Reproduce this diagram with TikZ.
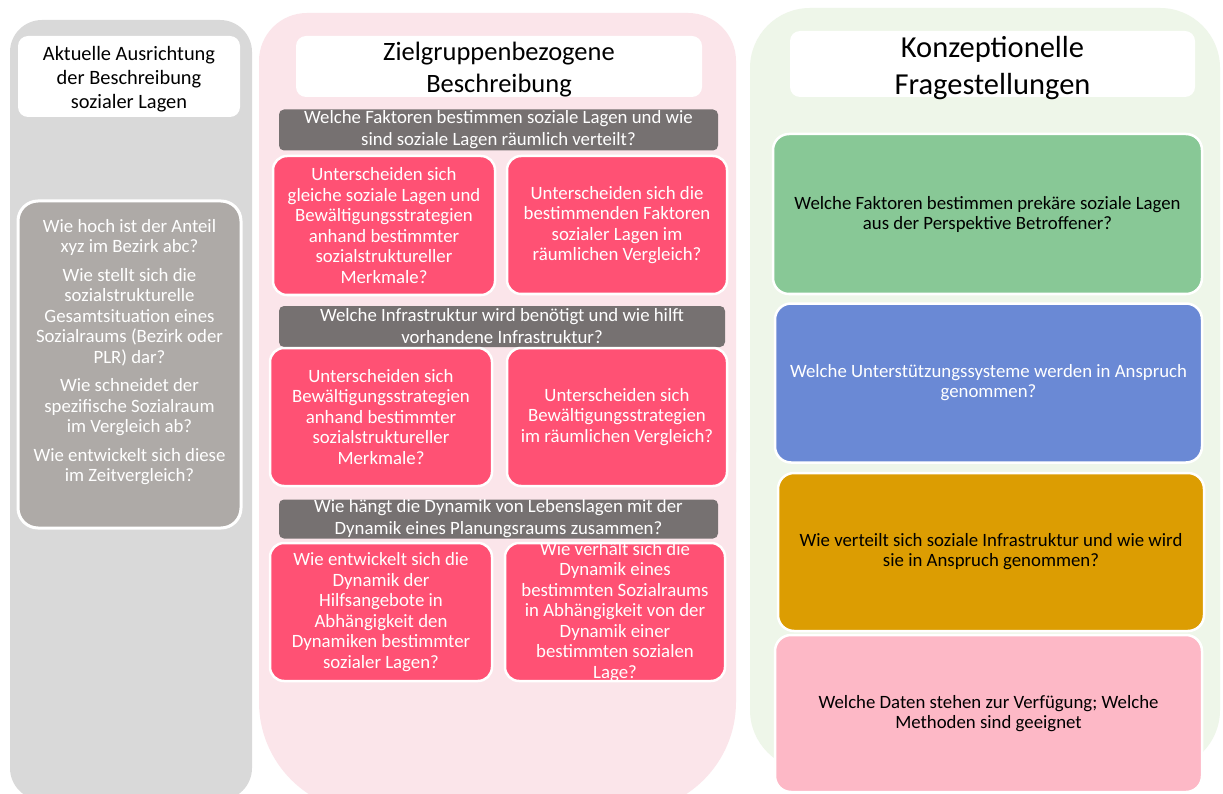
\documentclass[tikz,border=0pt]{standalone}
\usepackage{fontspec}
\setmainfont{Carlito}
\definecolor{leftbg}{HTML}{D9D9D9}
\definecolor{leftq}{HTML}{AEAAA7}
\definecolor{bargray}{HTML}{767171}
\definecolor{midbg}{HTML}{FBE5EA}
\definecolor{pinkq}{HTML}{FF5174}
\definecolor{rightbg}{HTML}{EEF6E9}
\definecolor{greenq}{HTML}{88C896}
\definecolor{blueq}{HTML}{6A89D5}
\definecolor{goldq}{HTML}{DC9D02}
\definecolor{lpinkq}{HTML}{FDB8C6}
\tikzset{
  titlebox/.style={fill=white, rounded corners=10, inner sep=0pt, align=center},
  qbar/.style={fill=bargray, rounded corners=5, inner sep=0pt, text=white, align=center,
    font=\fontsize{18.8}{22}\selectfont},
  pinkbox/.style={fill=pinkq, draw=white, line width=2.5pt, rounded corners=14, inner sep=0pt,
    text=white, align=center, font=\fontsize{18.8}{20.5}\selectfont},
  rbox/.style={draw=white, line width=2.5pt, rounded corners=16, inner sep=0pt, align=center,
    font=\fontsize{18.8}{20}\selectfont},
  plaintext/.style={inner sep=0pt, align=center}
}
\begin{document}
\begin{tikzpicture}[x=1pt,y=-1pt]
\useasboundingbox (0,0) rectangle (1223,794);
\fill[white] (0,0) rectangle (1223,794);
% column backgrounds
\fill[leftbg, rounded corners=32] (10,20) rectangle (252,800);
\fill[midbg, rounded corners=48] (259,13) rectangle (736,500);
\fill[midbg, rounded corners=110] (259,300) rectangle (736,812);
\fill[rightbg, rounded corners=60] (750,8) rectangle (1220,770);

% left column
\node[titlebox, minimum width=222, minimum height=81, font=\fontsize{20.4}{24}\selectfont]
  (Ltitle) at (129,76.5) {};
\node[plaintext, font=\fontsize{20.4}{24}\selectfont] (Ltitlet) at (129,79)
  {Aktuelle Ausrichtung\\der Beschreibung\\sozialer Lagen};
\node[fill=leftq, draw=white, line width=3pt, rounded corners=20, minimum width=223,
  minimum height=327, inner sep=0pt] (Lq) at (129.5,364.5) {};
\node[plaintext, text=white, font=\fontsize{18.8}{20.5}\selectfont] (Lqt) at (129.5,352)
  {Wie hoch ist der Anteil\\xyz im Bezirk abc?\\[8pt]
   Wie stellt sich die\\sozialstrukturelle\\Gesamtsituation eines\\Sozialraums (Bezirk oder\\PLR) dar?\\[8pt]
   Wie schneidet der\\spezifische Sozialraum\\im Vergleich ab?\\[8pt]
   Wie entwickelt sich diese\\im Zeitvergleich?};

% middle column
\node[titlebox, minimum width=406, minimum height=61] (Mtitle) at (499,66.5) {};
\node[plaintext, font=\fontsize{26.5}{32}\selectfont] (Mtitlet) at (499,70)
  {Zielgruppenbezogene\\Beschreibung};
\node[qbar, minimum width=439, minimum height=41] (bar1) at (498.5,130)
  {Welche Faktoren bestimmen soziale Lagen und wie\\sind soziale Lagen räumlich verteilt?};
\node[pinkbox, minimum width=222, minimum height=139] (A) at (384,225.5)
  {Unterscheiden sich\\gleiche soziale Lagen und\\Bewältigungsstrategien\\anhand bestimmter\\sozialstruktureller\\Merkmale?};
\node[pinkbox, minimum width=220, minimum height=138] (B) at (617,225)
  {Unterscheiden sich die\\bestimmenden Faktoren\\sozialer Lagen im\\räumlichen Vergleich?};
\node[qbar, minimum width=446, minimum height=41] (bar2) at (502,326.5)
  {Welche Infrastruktur wird benötigt und wie hilft\\vorhandene Infrastruktur?};
\node[pinkbox, minimum width=222, minimum height=138] (C) at (381,417)
  {Unterscheiden sich\\Bewältigungsstrategien\\anhand bestimmter\\sozialstruktureller\\Merkmale?};
\node[pinkbox, minimum width=220, minimum height=138] (D) at (617,417)
  {Unterscheiden sich\\Bewältigungsstrategien\\im räumlichen Vergleich?};
\node[qbar, minimum width=439, minimum height=39] (bar3) at (498.5,519)
  {Wie hängt die Dynamik von Lebenslagen mit der\\Dynamik eines Planungsraums zusammen?};
\node[pinkbox, minimum width=222, minimum height=138] (E) at (381,612)
  {Wie entwickelt sich die\\Dynamik der\\Hilfsangebote in\\Abhängigkeit den\\Dynamiken bestimmter\\sozialer Lagen?};
\node[pinkbox, minimum width=220, minimum height=138] (F) at (615,612) {};
\node[plaintext, text=white, font=\fontsize{18.8}{20.5}\selectfont] (Ft) at (615,612)
  {Wie verhält sich die\\Dynamik eines\\bestimmten Sozialraums\\in Abhängigkeit von der\\Dynamik einer\\bestimmten sozialen\\Lage?};

% right column
\node[titlebox, minimum width=405, minimum height=66] (Rtitle) at (992.5,64) {};
\node[plaintext, font=\fontsize{30.5}{37}\selectfont] (Rtitlet) at (992.5,68)
  {Konzeptionelle\\Fragestellungen};
\node[rbox, fill=greenq, minimum width=429, minimum height=160] (G) at (987.5,214)
  {Welche Faktoren bestimmen prekäre soziale Lagen\\aus der Perspektive Betroffener?};
\node[rbox, fill=blueq, text=white, minimum width=427, minimum height=159] (Bl) at (988.5,383)
  {Welche Unterstützungssysteme werden in Anspruch\\genommen?};
\node[rbox, fill=goldq, minimum width=426, minimum height=158] (Go) at (991,552)
  {Wie verteilt sich soziale Infrastruktur und wie wird\\sie in Anspruch genommen?};
\node[rbox, fill=lpinkq, minimum width=427, minimum height=157] (Lp) at (988.5,713.5)
  {Welche Daten stehen zur Verfügung; Welche\\Methoden sind geeignet};
\end{tikzpicture}
\end{document}
